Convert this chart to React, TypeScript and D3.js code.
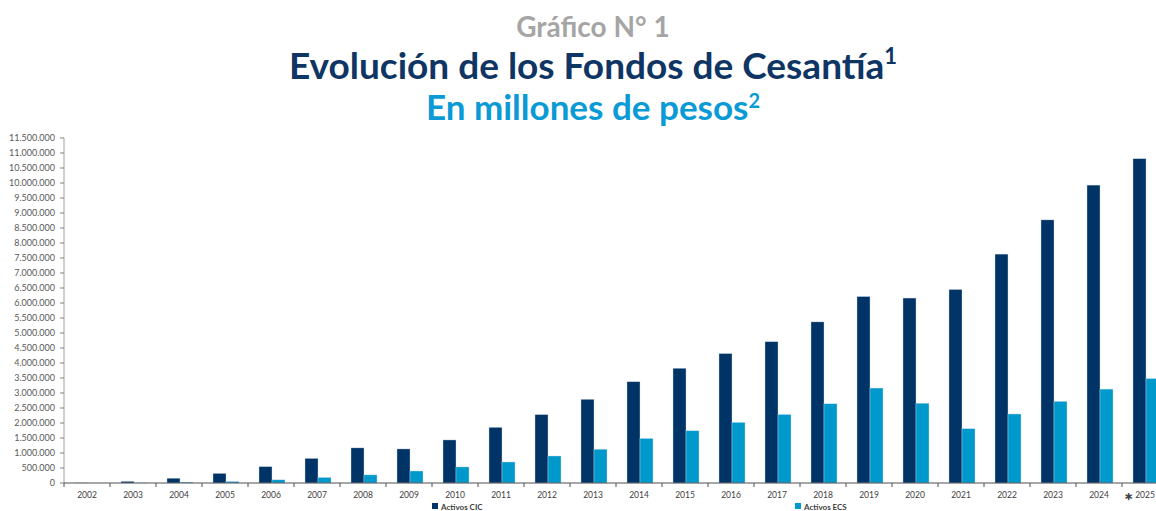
import React from "react";
import * as d3 from "d3";

const years = ["2002","2003","2004","2005","2006","2007","2008","2009","2010","2011","2012","2013","2014","2015","2016","2017","2018","2019","2020","2021","2022","2023","2024","2025"];
const activosCIC = [3000, 55000, 160000, 320000, 545000, 820000, 1170000, 1135000, 1435000, 1855000, 2280000, 2790000, 3375000, 3825000, 4315000, 4710000, 5370000, 6215000, 6165000, 6450000, 7630000, 8770000, 9930000, 10810000];
const activosECS = [0, 5000, 30000, 50000, 105000, 185000, 270000, 400000, 535000, 700000, 900000, 1125000, 1485000, 1740000, 2020000, 2285000, 2640000, 3165000, 2660000, 1810000, 2300000, 2720000, 3130000, 3480000];
const seriesNames = ["Activos CIC", "Activos ECS"];
const seriesColors = ["#003366", "#0099cc"];
const yTicks = d3.range(0, 11500001, 500000);

const W = 1156, H = 511;
const left = 64, bottom = 483, top = 138;
const step = 46;

export default function App() {
  const x = d3.scaleBand<string>().domain(years).range([left, left + step * years.length]).padding(0);
  const inner = d3.scaleBand<string>().domain(seriesNames).range([1, step + 1]).paddingInner(0).paddingOuter(0.77);
  const y = d3.scaleLinear().domain([0, 11500000]).range([bottom, top]);
  const loc = d3.formatLocale({ decimal: ",", thousands: ".", grouping: [3], currency: ["$", ""] });
  const fmt = loc.format(",d");
  const values = [activosCIC, activosECS];
  const font = "Lato, 'Open Sans', sans-serif";

  return (
    <svg width={W} height={H} style={{ position: "absolute", left: 0, top: 0, background: "#fff" }} fontFamily={font}>
      <text x={593} y={37} textAnchor="middle" fontSize={28} fontWeight="bold" fill="#a5a5a5">Gráfico N° 1</text>
      <text x={593} y={79} textAnchor="middle" fontSize={37} fontWeight="bold" fill="#0e3563">
        Evolución de los Fondos de Cesantía<tspan fontSize={22} dy={-15}>1</tspan>
      </text>
      <text x={593} y={120} textAnchor="middle" fontSize={35} fontWeight="bold" fill="#0a9ad6">
        En millones de pesos<tspan fontSize={20} dy={-12}>2</tspan>
      </text>

      {/* bars */}
      {years.map((yr, i) => (
        <g key={yr}>
          {values.map((vals, s) => (
            <rect key={s}
              x={(x(yr) as number) + (inner(seriesNames[s]) as number)}
              y={y(vals[i])}
              width={inner.bandwidth()}
              height={bottom - y(vals[i])}
              fill={seriesColors[s]}
              stroke="#c9d6e8" strokeWidth={0.4} />
          ))}
        </g>
      ))}

      {/* y axis */}
      <line x1={left} x2={left} y1={top} y2={bottom} stroke="#a0a0a0" strokeWidth={1} />
      {yTicks.map(t => (
        <g key={t}>
          <line x1={left - 4} x2={left} y1={y(t)} y2={y(t)} stroke="#808080" strokeWidth={1} />
          <text x={left - 9} y={y(t) + 3} textAnchor="end" fontSize={9} fill="#595959">{fmt(t)}</text>
        </g>
      ))}

      {/* x axis */}
      <line x1={left} x2={W} y1={bottom} y2={bottom} stroke="#505050" strokeWidth={1} />
      {years.map((yr, i) => (
        <g key={yr}>
          <line x1={x(yr) as number} x2={x(yr) as number} y1={bottom} y2={bottom + 4} stroke="#505050" strokeWidth={1} />
          <text x={(x(yr) as number) + x.bandwidth() / 2} y={498} textAnchor="middle" fontSize={8.5} fill="#404040">{yr}</text>
          {i === years.length - 1 && (
            <text x={(x(yr) as number) + x.bandwidth() / 2 - 12} y={500} textAnchor="end" fontSize={11} fontWeight="bold" fill="#404040">∗</text>
          )}
        </g>
      ))}

      {/* legend */}
      {seriesNames.map((n, s) => {
        const lx = s === 0 ? 432 : 795;
        return (
          <g key={n}>
            <rect x={lx} y={503} width={6} height={6} fill={seriesColors[s]} />
            <text x={lx + 9} y={509.5} fontSize={8} fontWeight="bold" fill="#404040">{n}</text>
          </g>
        );
      })}
    </svg>
  );
}
